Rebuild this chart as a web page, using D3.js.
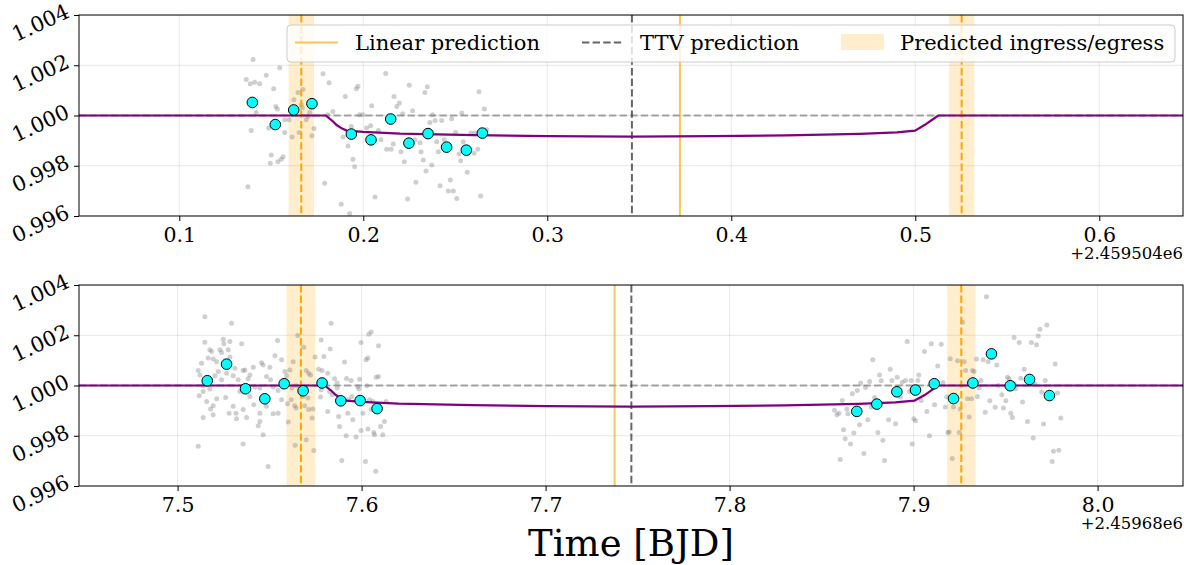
<!DOCTYPE html>
<html>
<head>
<meta charset="utf-8">
<script src="https://cdn.jsdelivr.net/npm/d3@7"></script>
<style>
  body { margin: 0; background: #fff; }
  svg text { font-family: "DejaVu Serif", serif; fill: #000; }
</style>
</head>
<body>
<svg id="chart" width="1186" height="565"></svg>
<script>
// ---- shared axis values ----
const yTicks = [0.996, 0.998, 1.000, 1.002, 1.004];
const yDomain = [0.996, 1.004];

// ---- first transit window (offset +2.459504e6 BJD) ----
const topXDomain = [0.0455, 0.6455];
const topXTicks = [0.1, 0.2, 0.3, 0.4, 0.5, 0.6];
const topOffsetLabel = "+2.459504e6";
const topLinear = 0.3721;
const topTTV = 0.3460;
const topIngressEgress = [0.1663, 0.5252];
const topBandHalfWidth = 0.0069;

const topRaw = [
  [0.1401,1.00223],[0.1546,1.00190],[0.1473,1.00160],[0.1364,1.00143],[0.1410,1.00132],[0.1386,1.00126],
  [0.1437,1.00126],[0.1513,1.00106],[0.1672,1.00103],[0.1645,1.00092],[0.1781,1.00166],[0.1814,1.00130],
  [0.1971,1.00116],[0.1962,1.00106],[0.1902,1.00076],[0.1623,1.00063],[0.1524,1.00036],[0.1533,1.00026],
  [0.1663,1.00043],[0.1668,1.00030],[0.1709,1.00012],[0.1418,1.00012],[0.1835,1.00016],[0.1808,1.00003],
  [0.1980,1.00003],[0.1998,1.00003],[0.1573,0.99983],[0.1596,0.99983],[0.1690,0.99983],[0.1700,0.99996],
  [0.1732,0.99948],[0.1391,0.99940],[0.1486,0.99950],[0.1573,0.99932],[0.1651,0.99932],[0.1613,0.99914],
  [0.1721,0.99919],[0.1890,0.99914],[0.1917,0.99879],[0.1935,0.99956],[0.1944,0.99826],[0.1953,0.99796],
  [0.1500,0.99843],[0.1564,0.99836],[0.1554,0.99826],[0.1536,0.99816],[0.1495,0.99810],[0.1373,0.99716],
  [0.1790,0.99730],[0.1880,0.99647],[0.1926,0.99610],
  [0.2122,1.00167],[0.2250,1.00120],[0.2348,1.00114],[0.2335,1.00092],[0.2167,1.00076],[0.2196,1.00050],
  [0.2182,1.00036],[0.2046,1.00039],[0.2629,1.00095],[0.2658,1.00026],[0.2268,1.00019],[0.2214,1.00007],
  [0.2535,1.00010],[0.2377,1.00003],[0.2480,0.99987],[0.2390,0.99980],[0.2426,0.99980],[0.2362,0.99972],
  [0.2040,0.99959],[0.2018,0.99950],[0.2082,0.99940],[0.2096,0.99903],[0.2281,0.99903],[0.2308,0.99892],
  [0.2399,0.99896],[0.2440,0.99903],[0.2502,0.99932],[0.2543,0.99896],[0.2585,0.99930],[0.2607,0.99930],
  [0.2671,0.99943],[0.2163,0.99887],[0.2127,0.99866],[0.2151,0.99866],[0.2205,0.99856],[0.2314,0.99856],
  [0.2408,0.99856],[0.2520,0.99847],[0.2547,0.99874],[0.2574,0.99870],[0.2622,0.99866],[0.2602,0.99850],
  [0.2223,0.99816],[0.2326,0.99823],[0.2372,0.99803],[0.2529,0.99820],[0.2341,0.99779],[0.2565,0.99774],
  [0.2286,0.99734],[0.2417,0.99720],[0.2473,0.99743],[0.2462,0.99700],[0.2489,0.99700],[0.2508,0.99670],
  [0.2064,0.99676],[0.2241,0.99668],[0.2638,0.99680]
];
const topBinned = [
  [0.1397,1.00052],[0.1522,0.99964],[0.1622,1.00022],[0.1721,1.00047],[0.1935,0.99926],[0.2042,0.99903],
  [0.2149,0.99986],[0.2248,0.99890],[0.2352,0.99928],[0.2453,0.99874],[0.2560,0.99862],[0.2647,0.99930]
];
const topModel = [
  [0.0455,1.0],[0.1796,1.0],[0.1830,0.99980],[0.1855,0.99962],[0.1885,0.99948],[0.1910,0.99940],
  [0.2000,0.99935],[0.2200,0.99928],[0.2600,0.99922],[0.3000,0.99918],[0.3460,0.99916],[0.3900,0.99918],
  [0.4300,0.99921],[0.4700,0.99927],[0.4900,0.99933],[0.4999,0.99940],[0.5050,0.99962],[0.5090,0.99982],
  [0.5125,1.0],[0.6455,1.0]
];

// ---- second transit window (offset +2.45968e6 BJD) ----
const bottomXDomain = [7.4464, 8.0464];
const bottomXTicks = [7.5, 7.6, 7.7, 7.8, 7.9, 8.0];
const bottomOffsetLabel = "+2.45968e6";
const bottomLinear = 7.7375;
const bottomTTV = 7.7466;
const bottomIngressEgress = [7.5670, 7.9259];
const bottomBandHalfWidth = 0.0078;

const bottomRaw = [
  [7.5148,1.00274],[7.5293,1.00248],[7.5148,1.00172],[7.5248,1.00184],[7.5251,1.00166],[7.5284,1.00175],
  [7.5348,1.00166],[7.5543,1.00179],[7.5175,1.00142],[7.5230,1.00142],[7.5275,1.00142],[7.5185,1.00135],
  [7.5239,1.00131],[7.5166,1.00109],[7.5193,1.00105],[7.5212,1.00095],[7.5284,1.00113],[7.5130,1.00089],
  [7.5529,1.00118],[7.5565,1.00102],[7.5456,1.00091],[7.5465,1.00082],[7.5501,1.00073],[7.5411,1.00073],
  [7.5112,1.00060],[7.5121,1.00042],[7.5311,1.00069],[7.5356,1.00060],[7.5366,1.00062],[7.5393,1.00042],
  [7.5221,1.00056],[7.5203,1.00039],[7.5266,1.00049],[7.5302,1.00039],[7.5239,1.00023],[7.5329,1.00023],
  [7.5383,1.00027],[7.5483,1.00036],[7.5505,1.00023],[7.5583,1.00056],[7.5592,1.00039],[7.5139,0.99999],
  [7.5139,0.99976],[7.5175,0.99986],[7.5117,0.99959],[7.5420,0.99994],[7.5447,0.99990],[7.5519,0.99994],
  [7.5546,0.99980],[7.5338,0.99976],[7.5393,0.99956],[7.5212,0.99947],[7.5261,0.99952],[7.5158,0.99936],
  [7.5302,0.99917],[7.5356,0.99904],[7.5414,0.99923],[7.5483,0.99917],[7.5565,0.99943],[7.5597,0.99927],
  [7.5193,0.99919],[7.5179,0.99906],[7.5280,0.99890],[7.5317,0.99890],[7.5447,0.99890],[7.5519,0.99888],
  [7.5546,0.99890],[7.5193,0.99884],[7.5139,0.99873],[7.5320,0.99868],[7.5375,0.99873],[7.5447,0.99857],
  [7.5438,0.99840],[7.5601,0.99855],[7.5465,0.99804],[7.5112,0.99758],[7.5356,0.99767],[7.5492,0.99678],
  [7.5834,1.00248],[7.5653,1.00199],[7.5780,1.00181],[7.6052,1.00213],[7.6039,1.00204],[7.5997,1.00171],
  [7.6092,1.00158],[7.5686,1.00152],[7.5829,1.00145],[7.5628,1.00095],[7.6034,1.00109],[7.6024,1.00102],
  [7.5907,1.00094],[7.5795,1.00115],[7.5747,1.00113],[7.5766,1.00065],[7.5785,1.00060],[7.5816,1.00049],
  [7.5699,1.00060],[7.5712,1.00049],[7.5722,1.00042],[7.5610,1.00062],[7.5853,1.00027],[7.5918,1.00028],
  [7.5943,1.00020],[7.5989,1.00025],[7.6079,1.00033],[7.6092,1.00036],[7.5867,1.00010],[7.5979,0.99996],
  [7.5985,0.99986],[7.6028,0.99999],[7.5644,0.99999],[7.5621,0.99990],[7.5867,0.99990],[7.5826,0.99976],
  [7.5840,0.99963],[7.5780,0.99983],[7.5777,0.99954],[7.5617,0.99943],[7.5681,0.99956],[7.5708,0.99950],
  [7.5929,0.99943],[7.5947,0.99956],[7.6043,0.99943],[7.6061,0.99936],[7.6133,0.99936],[7.5636,0.99919],
  [7.5644,0.99910],[7.5690,0.99919],[7.5712,0.99904],[7.5735,0.99906],[7.5816,0.99897],[7.5925,0.99890],
  [7.6007,0.99890],[7.6052,0.99904],[7.5875,0.99877],[7.5731,0.99871],[7.5880,0.99837],[7.5952,0.99864],
  [7.5997,0.99821],[7.6034,0.99827],[7.6066,0.99813],[7.6103,0.99837],[7.6124,0.99857],[7.5916,0.99800],
  [7.5970,0.99795],[7.6070,0.99804],[7.6115,0.99804],[7.5639,0.99762],[7.5699,0.99784],[7.5740,0.99741],
  [7.5892,0.99701],[7.6021,0.99698],[7.6077,0.99659],
  [7.8965,1.00175],[7.9096,1.00166],[7.9150,1.00164],[7.9059,1.00135],[7.8778,1.00102],[7.9131,1.00078],
  [7.8873,1.00065],[7.8815,1.00042],[7.9028,1.00042],[7.8911,1.00033],[7.8824,1.00019],[7.8882,1.00020],
  [7.8761,1.00016],[7.8712,1.00010],[7.8938,1.00013],[7.8956,1.00020],[7.8987,1.00020],[7.9023,1.00020],
  [7.8739,0.99992],[7.8694,0.99980],[7.8667,0.99967],[7.8929,0.99954],[7.8978,0.99976],[7.9159,1.00012],
  [7.9180,0.99954],[7.8612,0.99940],[7.8788,0.99952],[7.9041,0.99940],[7.8770,0.99914],[7.9114,0.99923],
  [7.9172,0.99914],[7.8570,0.99901],[7.8637,0.99906],[7.8583,0.99884],[7.8594,0.99890],[7.9072,0.99897],
  [7.8643,0.99888],[7.8751,0.99864],[7.8864,0.99864],[7.9001,0.99868],[7.9010,0.99860],[7.8706,0.99844],
  [7.8902,0.99848],[7.8619,0.99824],[7.8806,0.99813],[7.8675,0.99811],[7.9086,0.99800],[7.8628,0.99788],
  [7.8833,0.99782],[7.8657,0.99767],[7.8992,0.99767],[7.9186,0.99813],[7.8730,0.99729],[7.8601,0.99705],
  [7.8842,0.99701],
  [7.9396,1.00353],[7.9266,1.00252],[7.9724,1.00241],[7.9686,1.00224],[7.9677,1.00197],[7.9546,1.00191],
  [7.9574,1.00171],[7.9640,1.00171],[7.9668,1.00162],[7.9199,1.00106],[7.9239,1.00099],[7.9275,1.00095],
  [7.9342,1.00105],[7.9378,1.00102],[7.9405,1.00095],[7.9452,1.00082],[7.9769,1.00086],[7.9601,1.00065],
  [7.9283,1.00060],[7.9320,1.00060],[7.9329,1.00056],[7.9510,1.00033],[7.9519,1.00027],[7.9582,1.00029],
  [7.9715,1.00020],[7.9365,1.00020],[7.9546,1.00007],[7.9658,1.00007],[7.9356,0.99990],[7.9461,1.00000],
  [7.9555,0.99987],[7.9696,0.99974],[7.9782,0.99970],[7.9479,0.99963],[7.9347,0.99956],[7.9293,0.99947],
  [7.9315,0.99947],[7.9414,0.99939],[7.9501,0.99939],[7.9592,0.99934],[7.9217,0.99914],[7.9253,0.99906],
  [7.9443,0.99913],[7.9488,0.99910],[7.9389,0.99894],[7.9528,0.99890],[7.9537,0.99873],[7.9302,0.99875],
  [7.9619,0.99857],[7.9800,0.99871],[7.9706,0.99847],[7.9193,0.99815],[7.9248,0.99813],[7.9650,0.99791],
  [7.9210,0.99709],[7.9760,0.99738],[7.9789,0.99742],[7.9753,0.99698]
];
const bottomBinned = [
  [7.5161,1.00019],[7.5266,1.00085],[7.5369,0.99987],[7.5474,0.99947],[7.5579,1.00007],[7.5682,0.99979],
  [7.5785,1.00010],[7.5887,0.99939],[7.5992,0.99940],[7.6084,0.99908],
  [7.8691,0.99897],[7.8800,0.99926],[7.8909,0.99975],[7.9010,0.99982],[7.9112,1.00007],[7.9217,0.99948],
  [7.9322,1.00010],[7.9423,1.00126],[7.9525,0.99999],[7.9630,1.00024],[7.9738,0.99960]
];
const bottomModel = [
  [7.4464,1.0],[7.5800,1.0],[7.5834,0.99980],[7.5860,0.99962],[7.5890,0.99948],[7.5918,0.99940],
  [7.6000,0.99935],[7.6200,0.99928],[7.6600,0.99922],[7.7000,0.99918],[7.7466,0.99916],[7.7900,0.99918],
  [7.8300,0.99921],[7.8700,0.99927],[7.8900,0.99933],[7.9005,0.99940],[7.9060,0.99962],[7.9098,0.99982],
  [7.9131,1.0],[8.0464,1.0]
];

const legendLabels = ["Linear prediction", "TTV prediction", "Predicted ingress/egress"];
const xAxisTitle = "Time [BJD]";

// ---- layout ----
const svg = d3.select("#chart");
const plotLeft = 79, plotRight = 1183;
const ORANGE = "#ffa500";

function drawPanel(cfg) {
  const x = d3.scaleLinear().domain(cfg.xDomain).range([plotLeft, plotRight]);
  const y = d3.scaleLinear().domain(yDomain).range([cfg.bottom, cfg.top]);
  const g = svg.append("g");

  const clipId = "clip-" + cfg.id;
  g.append("clipPath").attr("id", clipId).append("rect")
    .attr("x", plotLeft).attr("y", cfg.top)
    .attr("width", plotRight - plotLeft).attr("height", cfg.bottom - cfg.top);
  const plot = g.append("g").attr("clip-path", `url(#${clipId})`);

  // predicted ingress / egress windows
  plot.selectAll("rect.band").data(cfg.ingressEgress).join("rect")
    .attr("class", "band")
    .attr("x", d => x(d - cfg.halfWidth))
    .attr("width", d => x(d + cfg.halfWidth) - x(d - cfg.halfWidth))
    .attr("y", cfg.top).attr("height", cfg.bottom - cfg.top)
    .attr("fill", ORANGE).attr("fill-opacity", 0.2);

  // grid
  plot.selectAll("line.gx").data(cfg.xTicks).join("line")
    .attr("class", "gx")
    .attr("x1", d => x(d)).attr("x2", d => x(d))
    .attr("y1", cfg.top).attr("y2", cfg.bottom)
    .attr("stroke", "#b0b0b0").attr("stroke-opacity", 0.3).attr("stroke-width", 1);
  plot.selectAll("line.gy").data(yTicks).join("line")
    .attr("class", "gy")
    .attr("x1", plotLeft).attr("x2", plotRight)
    .attr("y1", d => y(d)).attr("y2", d => y(d))
    .attr("stroke", "#b0b0b0").attr("stroke-opacity", 0.3).attr("stroke-width", 1);

  // baseline at unity flux
  plot.append("line")
    .attr("x1", plotLeft).attr("x2", plotRight)
    .attr("y1", y(1)).attr("y2", y(1))
    .attr("stroke", "#808080").attr("stroke-opacity", 0.7)
    .attr("stroke-width", 2).attr("stroke-dasharray", "7.4,3.2");

  // unbinned photometry
  plot.selectAll("circle.raw").data(cfg.raw).join("circle")
    .attr("class", "raw")
    .attr("cx", d => x(d[0])).attr("cy", d => y(d[1])).attr("r", 2.5)
    .attr("fill", "#808080").attr("fill-opacity", 0.38);

  // mid-transit predictions
  plot.append("line")
    .attr("x1", x(cfg.linear)).attr("x2", x(cfg.linear))
    .attr("y1", cfg.top).attr("y2", cfg.bottom)
    .attr("stroke", ORANGE).attr("stroke-opacity", 0.65).attr("stroke-width", 2);
  plot.append("line")
    .attr("x1", x(cfg.ttv)).attr("x2", x(cfg.ttv))
    .attr("y1", cfg.top).attr("y2", cfg.bottom)
    .attr("stroke", "#404040").attr("stroke-opacity", 0.8)
    .attr("stroke-width", 2).attr("stroke-dasharray", "7.4,3.2");
  plot.selectAll("line.ie").data(cfg.ingressEgress).join("line")
    .attr("class", "ie")
    .attr("x1", d => x(d)).attr("x2", d => x(d))
    .attr("y1", cfg.top).attr("y2", cfg.bottom)
    .attr("stroke", ORANGE).attr("stroke-width", 2).attr("stroke-dasharray", "7.4,3.2");

  // transit model
  plot.append("path").datum(cfg.model)
    .attr("d", d3.line().x(d => x(d[0])).y(d => y(d[1])))
    .attr("fill", "none").attr("stroke", "#800080").attr("stroke-width", 2.2);

  // binned photometry
  plot.selectAll("circle.bin").data(cfg.binned).join("circle")
    .attr("class", "bin")
    .attr("cx", d => x(d[0])).attr("cy", d => y(d[1])).attr("r", 5.3)
    .attr("fill", "#00ffff").attr("stroke", "#000").attr("stroke-width", 1);

  // frame
  g.append("rect")
    .attr("x", plotLeft).attr("y", cfg.top)
    .attr("width", plotRight - plotLeft).attr("height", cfg.bottom - cfg.top)
    .attr("fill", "none").attr("stroke", "#000").attr("stroke-width", 1);

  // x axis
  const xAxis = d3.axisBottom(x).tickValues(cfg.xTicks).tickFormat(d3.format(".1f"))
    .tickSize(5).tickPadding(6);
  const xg = g.append("g").attr("transform", `translate(0,${cfg.bottom})`).call(xAxis);
  xg.select(".domain").remove();
  xg.selectAll(".tick line").attr("stroke", "#000");
  xg.selectAll(".tick text").attr("font-size", 20.5).attr("font-family", "DejaVu Serif").attr("fill", "#000");

  g.append("text")
    .attr("x", plotRight).attr("y", cfg.bottom + 43)
    .attr("text-anchor", "end").attr("font-size", 16.5)
    .text(cfg.offsetLabel);

  // y axis with slanted labels
  const yAxis = d3.axisLeft(y).tickValues(yTicks).tickFormat(() => "").tickSize(5);
  const yg = g.append("g").attr("transform", `translate(${plotLeft},0)`).call(yAxis);
  yg.select(".domain").remove();
  yg.selectAll(".tick line").attr("stroke", "#000");

  const angle = 25;
  const rad = angle * Math.PI / 180;
  yTicks.forEach(v => {
    const t = g.append("text")
      .attr("font-size", 21)
      .attr("text-anchor", "middle")
      .attr("dominant-baseline", "central")
      .text(d3.format(".3f")(v));
    const w = t.node().getComputedTextLength();
    const h = 15;
    const bw = w * Math.cos(rad) + h * Math.sin(rad);
    const cx = plotLeft - 8 - bw / 2;
    const cy = y(v) + 8;
    t.attr("transform", `translate(${cx},${cy}) rotate(${-angle})`);
  });

  return { x, y, g };
}

drawPanel({
  id: "a", top: 15, bottom: 216, xDomain: topXDomain, xTicks: topXTicks,
  offsetLabel: topOffsetLabel, linear: topLinear, ttv: topTTV,
  ingressEgress: topIngressEgress, halfWidth: topBandHalfWidth,
  raw: topRaw, binned: topBinned, model: topModel
});
drawPanel({
  id: "b", top: 285, bottom: 486, xDomain: bottomXDomain, xTicks: bottomXTicks,
  offsetLabel: bottomOffsetLabel, linear: bottomLinear, ttv: bottomTTV,
  ingressEgress: bottomIngressEgress, halfWidth: bottomBandHalfWidth,
  raw: bottomRaw, binned: bottomBinned, model: bottomModel
});

// legend in the first panel
const lg = svg.append("g");
lg.append("rect")
  .attr("x", 287).attr("y", 25).attr("width", 888).attr("height", 37)
  .attr("rx", 4).attr("fill", "#fff").attr("fill-opacity", 0.8)
  .attr("stroke", "#cccccc").attr("stroke-width", 1);
const legendY = 42.5;
lg.append("line").attr("x1", 295).attr("x2", 338).attr("y1", legendY).attr("y2", legendY)
  .attr("stroke", ORANGE).attr("stroke-opacity", 0.65).attr("stroke-width", 2);
lg.append("line").attr("x1", 582).attr("x2", 622).attr("y1", legendY).attr("y2", legendY)
  .attr("stroke", "#404040").attr("stroke-opacity", 0.8).attr("stroke-width", 2)
  .attr("stroke-dasharray", "7.4,3.2");
lg.append("rect").attr("x", 841).attr("y", 34).attr("width", 43).attr("height", 16)
  .attr("fill", ORANGE).attr("fill-opacity", 0.2);
const legendX = [355, 640, 900];
legendLabels.forEach((s, i) => {
  lg.append("text").attr("x", legendX[i]).attr("y", 49.5)
    .attr("font-size", 21).text(s);
});

// shared x axis title
svg.append("text")
  .attr("x", (plotLeft + plotRight) / 2).attr("y", 556)
  .attr("text-anchor", "middle").attr("font-size", 37)
  .text(xAxisTitle);
</script>
</body>
</html>
